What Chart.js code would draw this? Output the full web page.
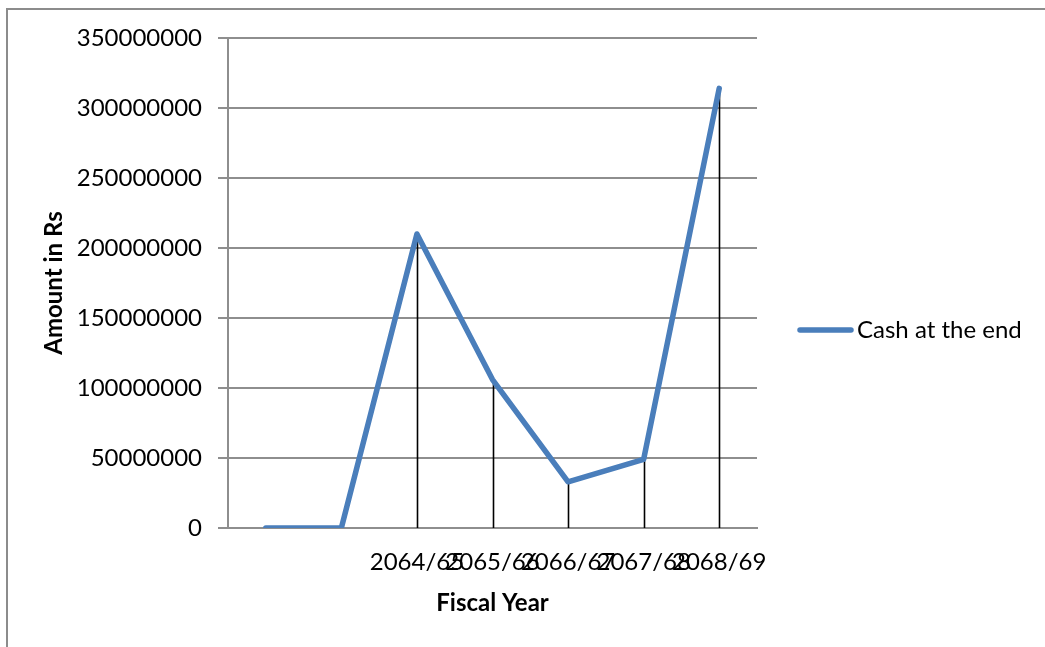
<!DOCTYPE html>
<html>
<head>
<meta charset="utf-8">
<title>Cash at the end</title>
<script src="https://cdn.jsdelivr.net/npm/chart.js@4/dist/chart.umd.min.js"></script>
<style>
  html, body { margin: 0; padding: 0; background: #fff; }
  #wrap { position: relative; width: 1045px; height: 647px; overflow: hidden; }
</style>
</head>
<body>
<div id="wrap"><canvas id="cashChart" width="1045" height="647"></canvas></div>
<script>
// fiscal years (first two rows have no year label and zero cash)
const years = ["", "", "2064/65", "2065/66", "2066/67", "2067/68", "2068/69"];
const cashAtEnd = [0, 0, 210000000, 106000000, 33000000, 49000000, 314000000];
const seriesName = "Cash at the end";
const yTitle = "Amount in Rs";
const xTitle = "Fiscal Year";

const FONT = "Lato";
const BLUE = "#4a7ebb";
const GRID = "#8e8e8e";

// black drop lines from each point down to the zero line
const dropLines = {
  id: "dropLines",
  beforeDatasetsDraw(chart){
    const {ctx, scales:{y}} = chart;
    const base = y.getPixelForValue(0);
    const meta = chart.getDatasetMeta(0);
    ctx.save();
    ctx.strokeStyle = "#000";
    ctx.lineWidth = 1.6;
    meta.data.forEach(pt => {
      if(pt.y >= base - 0.5) return;
      ctx.beginPath();
      ctx.moveTo(Math.round(pt.x) + 0.5, pt.y);
      ctx.lineTo(Math.round(pt.x) + 0.5, base);
      ctx.stroke();
    });
    ctx.restore();
  }
};

// outer frame + legend on the right
const frameAndLegend = {
  id: "frameAndLegend",
  afterDraw(chart){
    const ctx = chart.ctx;
    const ds = chart.data.datasets[0];
    ctx.save();
    ctx.strokeStyle = "#8c8c8c";
    ctx.lineWidth = 2;
    ctx.strokeRect(7, 9, 2000, 2000);

    const ly = 330;
    ctx.strokeStyle = ds.borderColor;
    ctx.lineWidth = ds.borderWidth;
    ctx.lineCap = "round";
    ctx.beginPath();
    ctx.moveTo(800, ly);
    ctx.lineTo(851, ly);
    ctx.stroke();

    ctx.fillStyle = "#000";
    ctx.font = `24px ${FONT}`;
    ctx.textBaseline = "middle";
    ctx.textAlign = "left";
    ctx.fillText(ds.label, 857, ly);
    ctx.restore();
  }
};

function draw(){
  new Chart(document.querySelector("#cashChart"), {
    type: "line",
    data: {
      labels: years,
      datasets: [{
        label: seriesName,
        data: cashAtEnd,
        borderColor: BLUE,
        backgroundColor: BLUE,
        borderWidth: 5.5,
        borderCapStyle: "round",
        borderJoinStyle: "round",
        pointRadius: 0,
        pointHoverRadius: 0,
        tension: 0,
        fill: false
      }]
    },
    options: {
      responsive: false,
      animation: false,
      events: [],
      layout: { padding: { left: 0, top: 38, right: 288, bottom: 0 } },
      plugins: { legend: { display: false }, tooltip: { enabled: false } },
      scales: {
        x: {
          offset: true,
          grid: { drawOnChartArea: false, drawTicks: false },
          border: { display: true, color: GRID, width: 2 },
          ticks: {
            autoSkip: false, maxRotation: 0, minRotation: 0,
            padding: 20, color: "#000",
            font: { family: FONT, size: 24 }
          },
          title: {
            display: true, text: xTitle, color: "#000",
            font: { family: FONT, size: 24, weight: "bold" },
            padding: { top: 0, bottom: 29 }
          },
          afterFit(scale){ scale.height = 119; }
        },
        y: {
          min: 0, max: 350000000,
          grid: { color: GRID, lineWidth: 2, tickLength: 10, drawTicks: true },
          border: { display: true, color: GRID, width: 2 },
          ticks: {
            stepSize: 50000000, padding: 16, color: "#000",
            font: { family: FONT, size: 24 },
            callback: v => String(v)
          },
          title: {
            display: true, text: yTitle, color: "#000",
            font: { family: FONT, size: 24, weight: "bold" },
            padding: { top: 40, bottom: 0 }
          },
          afterFit(scale){ scale.width = 228; }
        }
      }
    },
    plugins: [dropLines, frameAndLegend]
  });
}

Promise.all([
  document.fonts.load(`24px ${FONT}`),
  document.fonts.load(`bold 24px ${FONT}`)
]).then(draw, draw);
</script>
</body>
</html>
